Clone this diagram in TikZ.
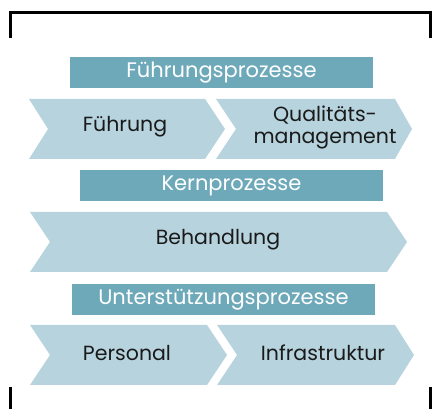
\documentclass[tikz,border=0pt]{standalone}
\usepackage{fontspec}
\setmainfont{Poppins}
\definecolor{hdr}{HTML}{6EA9BA}
\definecolor{chev}{HTML}{B7D4DE}
\definecolor{txt}{HTML}{1A1A1A}
\begin{document}
\begin{tikzpicture}[x=1pt,y=-1pt,
  hdrbox/.style={fill=hdr,draw=none,inner sep=0pt,text=white,font=\fontsize{21}{22}\selectfont},
  chevshape/.style={fill=chev,draw=none},
  chevtext/.style={text=txt,font=\fontsize{20.5}{22}\selectfont,align=center,inner sep=0pt},
  bracket/.style={line width=3pt,black}]
\useasboundingbox (0,0) rectangle (432,409);
% bracket
\coordinate (tl) at (10,38);
\coordinate (tr) at (430,38);
\draw[bracket,line cap=butt] (tl) |- (tr |- 0,13) -- (tr);
\coordinate (bl1) at (10,387); \coordinate (bl2) at (10,409);
\coordinate (br1) at (430,387); \coordinate (br2) at (430,409);
\draw[bracket] (bl1) -- (bl2);
\draw[bracket] (br1) -- (br2);
% headers
\node[hdrbox,minimum width=303pt,minimum height=31pt] (h1) at (221.5,72.5) {Führungsprozesse};
\node[hdrbox,minimum width=303pt,minimum height=31pt] (h2) at (231.5,185.5) {Kernprozesse};
\node[hdrbox,minimum width=303pt,minimum height=31pt] (h3) at (223.5,299.5) {Unterstützungsprozesse};
% row 1
\fill[chevshape] (29,99) -- (205,99) -- (225,129) -- (205,159) -- (29,159) -- (48,129) -- cycle;
\fill[chevshape] (216,99) -- (395,99) -- (412,129) -- (395,159) -- (216,159) -- (236,129) -- cycle;
\node[chevtext] (c1) at (125,127) {Führung};
\node[chevtext] (c2) at (325,127) {Qualitäts-\\management};
% row 2
\fill[chevshape] (30,212) -- (387,212) -- (407,242) -- (387,272) -- (30,272) -- (50,242) -- cycle;
\node[chevtext] (c3) at (218,240) {Behandlung};
% row 3
\fill[chevshape] (30,325) -- (207,325) -- (227,355) -- (207,385) -- (30,385) -- (50,355) -- cycle;
\fill[chevshape] (217,325) -- (395,325) -- (414,355) -- (395,385) -- (217,385) -- (237,355) -- cycle;
\node[chevtext] (c4) at (127,353) {Personal};
\node[chevtext] (c5) at (323,353) {Infrastruktur};
\end{tikzpicture}
\end{document}
